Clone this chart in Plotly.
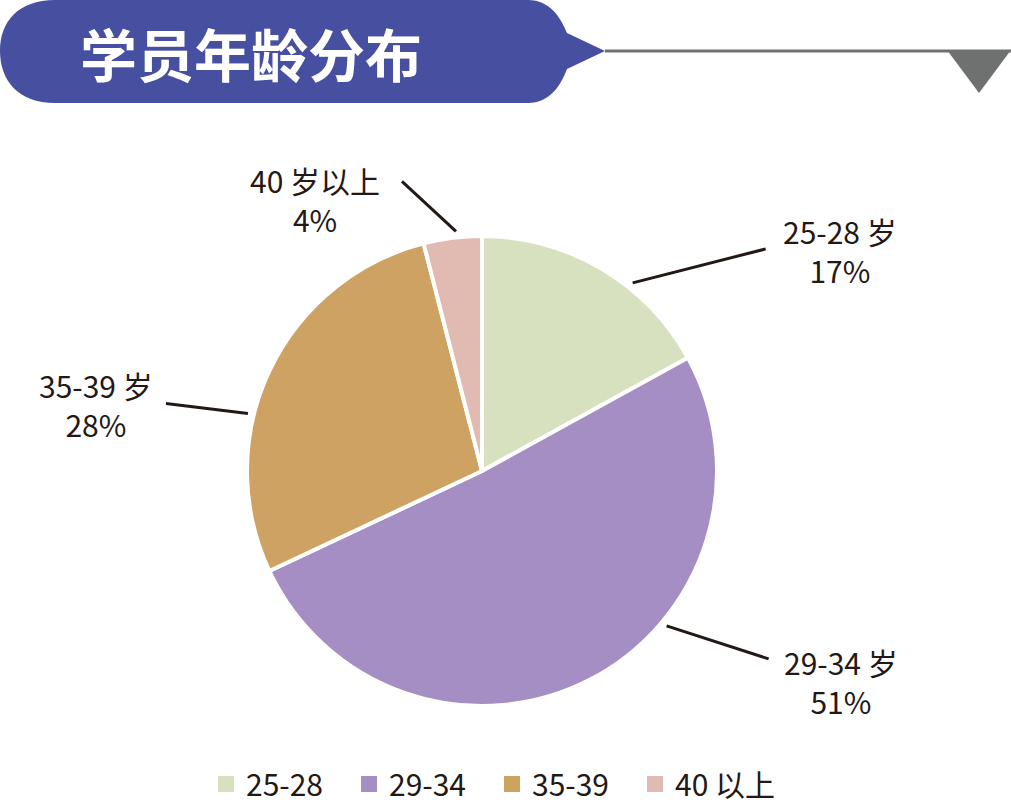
import math
import plotly.graph_objects as go

# ---- data ----
categories = ["25-28", "29-34", "35-39", "40 以上"]
label_names = ["25-28 岁", "29-34 岁", "35-39 岁", "40 岁以上"]
percentages = [17, 51, 28, 4]
colors = ["#d8e1bf", "#a58ec4", "#cda262", "#e1bab1"]
title_text = "学员年龄分布"

W, H = 1011, 802
FONT = "Noto Sans CJK SC"
INK = "#231815"


def px(x):
    return x / W


def py(y):
    return 1 - y / H


# pie geometry (pixels)
CX, CY, R = 482, 471, 235

# leader-line / label styling: angle of line start, line vector, label centre offset from line end
label_style = [
    dict(ang=38.7, dx=133, dy=-34, lx=74, ly=2),
    dict(ang=130.0, dx=102, dy=33, lx=72, ly=23),
    dict(ang=283.8, dx=-82, dy=-10, lx=-70, ly=1),
    dict(ang=353.8, dx=-54, dy=-50, lx=-87, ly=18),
]

fig = go.Figure()

fig.add_trace(go.Pie(
    labels=categories,
    values=percentages,
    sort=False,
    direction="clockwise",
    rotation=0,
    marker=dict(colors=colors, line=dict(color="white", width=4)),
    textinfo="none",
    hoverinfo="label+percent",
    showlegend=False,
    domain=dict(x=[px(CX - R), px(CX + R)], y=[py(CY + R), py(CY - R)]),
))

# legend entries
for cat, col in zip(categories, colors):
    fig.add_trace(go.Scatter(
        x=[None], y=[None], mode="markers", name=cat,
        marker=dict(symbol="square", size=16, color=col, line=dict(width=0)),
        showlegend=True,
    ))

shapes = []
annotations = []

path_px = ("M 55,0 L 528,0 C 550,0 561,18 567,33 L 605,51 L 567,69 "
           "C 561,85 550,103 528,103 L 55,103 C 18,103 0,80 0,51 C 0,22 18,0 55,0 Z")


def conv_path(p):
    out = []
    for tok in p.split():
        if "," in tok:
            a, b = tok.split(",")
            out.append(f"{px(float(a)):.5f},{py(float(b)):.5f}")
        else:
            out.append(tok)
    return " ".join(out)


shapes.append(dict(type="path", xref="paper", yref="paper", path=conv_path(path_px),
                   fillcolor="#4750a0", line=dict(width=0), layer="above"))
shapes.append(dict(type="line", xref="paper", yref="paper",
                   x0=px(605), y0=py(51), x1=px(1011), y1=py(51),
                   line=dict(color="#6f7070", width=3)))
shapes.append(dict(type="path", xref="paper", yref="paper",
                   path=conv_path("M 947,50 L 1011,50 L 979,93 Z"),
                   fillcolor="#6f7070", line=dict(width=0)))

annotations.append(dict(text=f"<b>{title_text}</b>", xref="paper", yref="paper",
                        x=px(78), y=py(52), xanchor="left", yanchor="middle",
                        showarrow=False, font=dict(family=FONT, size=57, color="white")))

# slice labels + leader lines
for name, pct, st in zip(label_names, percentages, label_style):
    a = math.radians(st["ang"])
    sx = CX + (R + 6) * math.sin(a)
    sy = CY - (R + 6) * math.cos(a)
    ex, ey = sx + st["dx"], sy + st["dy"]
    shapes.append(dict(type="line", xref="paper", yref="paper",
                       x0=px(sx), y0=py(sy), x1=px(ex), y1=py(ey),
                       line=dict(color=INK, width=3)))
    annotations.append(dict(text=f"{name}<br>{pct}%", xref="paper", yref="paper",
                            x=px(ex + st["lx"]), y=py(ey + st["ly"]),
                            xanchor="center", yanchor="middle", align="center",
                            showarrow=False,
                            font=dict(family=FONT, size=30, color=INK)))

fig.update_layout(
    width=W, height=H, autosize=False,
    margin=dict(l=0, r=0, t=0, b=0, autoexpand=False),
    paper_bgcolor="white", plot_bgcolor="white",
    xaxis=dict(visible=False), yaxis=dict(visible=False),
    shapes=shapes, annotations=annotations,
    showlegend=True,
    legend=dict(orientation="h", x=px(206), y=py(758), xanchor="left", yanchor="top",
                font=dict(family=FONT, size=30, color=INK),
                entrywidth=98, entrywidthmode="pixels",
                itemsizing="trace", bgcolor="rgba(0,0,0,0)"),
    font=dict(family=FONT),
)

fig.write_html("out.html", config={"displayModeBar": False},
               post_script="document.body.style.margin='0';")
